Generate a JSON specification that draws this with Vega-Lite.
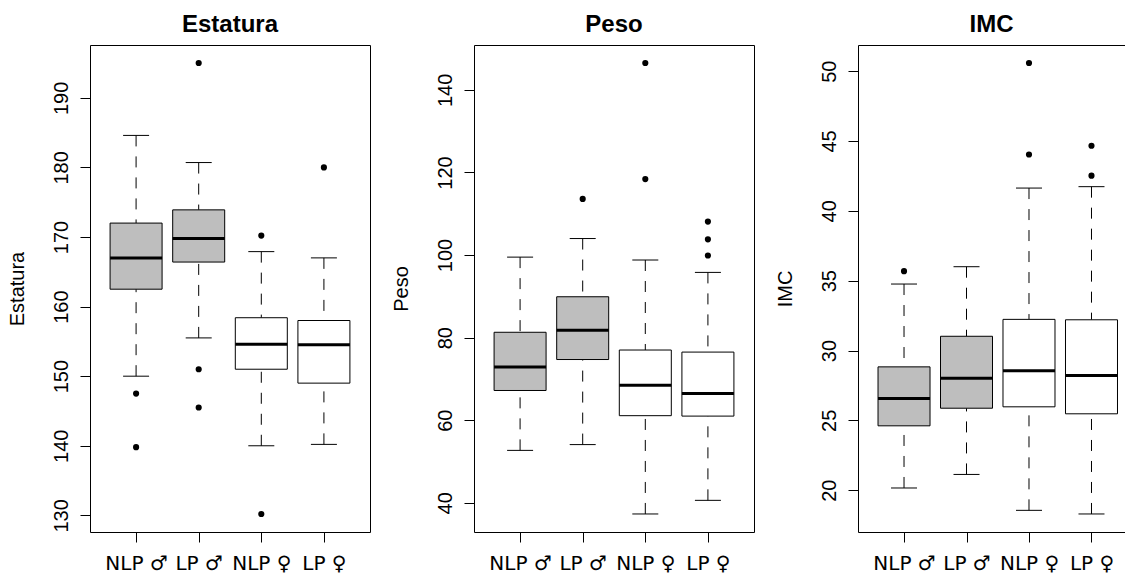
{
  "$schema": "https://vega.github.io/schema/vega-lite/v6.json",
  "padding": {"left": 6, "top": 12, "right": 0, "bottom": 0},
  "bounds": "flush",
  "spacing": 104,
  "config": {
    "font": "Liberation Sans",
    "view": {"stroke": "black", "strokeWidth": 1},
    "axis": {"grid": false, "domain": false, "domainColor": "black", "tickColor": "black", "tickSize": 10, "tickWidth": 1, "labelColor": "black", "labelFontSize": 20, "titleColor": "black", "titleFontSize": 20, "titleFontWeight": "normal", "labelOverlap": false, "labelFlush": false, "labelBound": false},
    "axisY": {"labelAngle": -90, "labelAlign": "center", "labelBaseline": "bottom", "labelPadding": 9, "titlePadding": 24, "labelFontSize": 20},
    "axisX": {"labelPadding": 11, "labelFontSize": 20, "labelFont": "DejaVu Sans"},
    "title": {"fontSize": 24, "fontWeight": "bold", "frame": "group", "offset": 8, "baseline": "alphabetic", "color": "black"}
  },
  "datasets": {
    "cajas": [
      {"variable": "Estatura", "g": 1, "grupo": "NLP ♂", "sexo": "hombre", "lower": 150.0, "q1": 162.5, "median": 167.0, "q3": 172.0, "upper": 184.6},
      {"variable": "Estatura", "g": 2, "grupo": "LP ♂", "sexo": "hombre", "lower": 155.5, "q1": 166.4, "median": 169.8, "q3": 173.9, "upper": 180.7},
      {"variable": "Estatura", "g": 3, "grupo": "NLP ♀", "sexo": "mujer", "lower": 140.0, "q1": 151.0, "median": 154.6, "q3": 158.4, "upper": 167.9},
      {"variable": "Estatura", "g": 4, "grupo": "LP ♀", "sexo": "mujer", "lower": 140.2, "q1": 149.0, "median": 154.5, "q3": 158.0, "upper": 167.0},
      {"variable": "Peso", "g": 1, "grupo": "NLP ♂", "sexo": "hombre", "lower": 52.7, "q1": 67.2, "median": 72.9, "q3": 81.3, "upper": 99.5},
      {"variable": "Peso", "g": 2, "grupo": "LP ♂", "sexo": "hombre", "lower": 54.1, "q1": 74.7, "median": 81.8, "q3": 89.9, "upper": 104.0},
      {"variable": "Peso", "g": 3, "grupo": "NLP ♀", "sexo": "mujer", "lower": 37.3, "q1": 61.1, "median": 68.5, "q3": 77.0, "upper": 98.8},
      {"variable": "Peso", "g": 4, "grupo": "LP ♀", "sexo": "mujer", "lower": 40.6, "q1": 61.0, "median": 66.5, "q3": 76.5, "upper": 95.8},
      {"variable": "IMC", "g": 1, "grupo": "NLP ♂", "sexo": "hombre", "lower": 20.16, "q1": 24.61, "median": 26.57, "q3": 28.83, "upper": 34.76},
      {"variable": "IMC", "g": 2, "grupo": "LP ♂", "sexo": "hombre", "lower": 21.13, "q1": 25.87, "median": 28.01, "q3": 31.02, "upper": 36.0},
      {"variable": "IMC", "g": 3, "grupo": "NLP ♀", "sexo": "mujer", "lower": 18.56, "q1": 25.97, "median": 28.56, "q3": 32.23, "upper": 41.63},
      {"variable": "IMC", "g": 4, "grupo": "LP ♀", "sexo": "mujer", "lower": 18.3, "q1": 25.47, "median": 28.22, "q3": 32.2, "upper": 41.73}
    ],
    "atipicos": [
      {"variable": "Estatura", "g": 1, "valor": 147.5},
      {"variable": "Estatura", "g": 1, "valor": 139.8},
      {"variable": "Estatura", "g": 2, "valor": 195.0},
      {"variable": "Estatura", "g": 2, "valor": 151.0},
      {"variable": "Estatura", "g": 2, "valor": 145.5},
      {"variable": "Estatura", "g": 3, "valor": 170.2},
      {"variable": "Estatura", "g": 3, "valor": 130.2},
      {"variable": "Estatura", "g": 4, "valor": 180.0},
      {"variable": "Peso", "g": 2, "valor": 113.6},
      {"variable": "Peso", "g": 3, "valor": 146.5},
      {"variable": "Peso", "g": 3, "valor": 118.4},
      {"variable": "Peso", "g": 4, "valor": 108.1},
      {"variable": "Peso", "g": 4, "valor": 103.8},
      {"variable": "Peso", "g": 4, "valor": 99.9},
      {"variable": "IMC", "g": 1, "valor": 35.68},
      {"variable": "IMC", "g": 3, "valor": 50.58},
      {"variable": "IMC", "g": 3, "valor": 44.03},
      {"variable": "IMC", "g": 4, "valor": 44.66},
      {"variable": "IMC", "g": 4, "valor": 42.52}
    ]
  },
  "hconcat": [
    {
      "width": 280, "height": 487,
      "title": {"text": "Estatura"},
      "layer": [
        {"data": {"name": "cajas"}, "transform": [{"filter": "datum.variable === 'Estatura'"}],
         "mark": {"type": "rule", "color": "black", "strokeDash": [11, 10]},
         "encoding": {
           "x": {"field": "g", "type": "quantitative", "title": null, "scale": {"domain": [0.3436, 4.6564], "nice": false, "zero": false}, "axis": {"values": [1, 2, 3, 4], "labelExpr": "['NLP ♂','LP ♂','NLP ♀','LP ♀'][datum.value-1]"}},
           "y": {"field": "upper", "type": "quantitative", "title": "Estatura", "scale": {"domain": [127.608, 197.592], "nice": false, "zero": false}, "axis": {"values": [130, 140, 150, 160, 170, 180, 190]}},
           "y2": {"field": "q3"}}},
        {"data": {"name": "cajas"}, "transform": [{"filter": "datum.variable === 'Estatura'"}],
         "mark": {"type": "rule", "color": "black", "strokeDash": [11, 10]},
         "encoding": {
           "x": {"field": "g", "type": "quantitative", "title": null, "scale": {"domain": [0.3436, 4.6564], "nice": false, "zero": false}},
           "y": {"field": "lower", "type": "quantitative", "title": "Estatura", "scale": {"domain": [127.608, 197.592], "nice": false, "zero": false}},
           "y2": {"field": "q1"}}},
        {"data": {"name": "cajas"}, "transform": [{"filter": "datum.variable === 'Estatura'"}],
         "mark": {"type": "bar", "width": 52, "stroke": "black", "strokeWidth": 1},
         "encoding": {
           "x": {"field": "g", "type": "quantitative", "title": null, "scale": {"domain": [0.3436, 4.6564], "nice": false, "zero": false}},
           "y": {"field": "q1", "type": "quantitative", "title": "Estatura", "scale": {"domain": [127.608, 197.592], "nice": false, "zero": false}},
           "y2": {"field": "q3"},
           "fill": {"field": "sexo", "type": "nominal", "scale": {"domain": ["hombre", "mujer"], "range": ["#bebebe", "#ffffff"]}, "legend": null}}},
        {"data": {"name": "cajas"}, "transform": [{"filter": "datum.variable === 'Estatura'"}],
         "mark": {"type": "tick", "orient": "horizontal", "size": 52, "thickness": 3, "color": "black", "opacity": 1},
         "encoding": {
           "x": {"field": "g", "type": "quantitative", "title": null, "scale": {"domain": [0.3436, 4.6564], "nice": false, "zero": false}},
           "y": {"field": "median", "type": "quantitative", "title": "Estatura", "scale": {"domain": [127.608, 197.592], "nice": false, "zero": false}}}},
        {"data": {"name": "cajas"}, "transform": [{"filter": "datum.variable === 'Estatura'"}],
         "mark": {"type": "tick", "orient": "horizontal", "size": 26, "thickness": 1, "color": "black", "opacity": 1},
         "encoding": {
           "x": {"field": "g", "type": "quantitative", "title": null, "scale": {"domain": [0.3436, 4.6564], "nice": false, "zero": false}},
           "y": {"field": "upper", "type": "quantitative", "title": "Estatura", "scale": {"domain": [127.608, 197.592], "nice": false, "zero": false}}}},
        {"data": {"name": "cajas"}, "transform": [{"filter": "datum.variable === 'Estatura'"}],
         "mark": {"type": "tick", "orient": "horizontal", "size": 26, "thickness": 1, "color": "black", "opacity": 1},
         "encoding": {
           "x": {"field": "g", "type": "quantitative", "title": null, "scale": {"domain": [0.3436, 4.6564], "nice": false, "zero": false}},
           "y": {"field": "lower", "type": "quantitative", "title": "Estatura", "scale": {"domain": [127.608, 197.592], "nice": false, "zero": false}}}},
        {"data": {"name": "atipicos"}, "transform": [{"filter": "datum.variable === 'Estatura'"}],
         "mark": {"type": "point", "filled": true, "color": "black", "size": 38, "opacity": 1},
         "encoding": {
           "x": {"field": "g", "type": "quantitative", "title": null, "scale": {"domain": [0.3436, 4.6564], "nice": false, "zero": false}},
           "y": {"field": "valor", "type": "quantitative", "title": "Estatura", "scale": {"domain": [127.608, 197.592], "nice": false, "zero": false}}}}
      ]
    },
    {
      "width": 280, "height": 487,
      "title": {"text": "Peso"},
      "layer": [
        {"data": {"name": "cajas"}, "transform": [{"filter": "datum.variable === 'Peso'"}],
         "mark": {"type": "rule", "color": "black", "strokeDash": [11, 10]},
         "encoding": {
           "x": {"field": "g", "type": "quantitative", "title": null, "scale": {"domain": [0.3436, 4.6564], "nice": false, "zero": false}, "axis": {"values": [1, 2, 3, 4], "labelExpr": "['NLP ♂','LP ♂','NLP ♀','LP ♀'][datum.value-1]"}},
           "y": {"field": "upper", "type": "quantitative", "title": "Peso", "scale": {"domain": [32.932, 150.868], "nice": false, "zero": false}, "axis": {"values": [40, 60, 80, 100, 120, 140]}},
           "y2": {"field": "q3"}}},
        {"data": {"name": "cajas"}, "transform": [{"filter": "datum.variable === 'Peso'"}],
         "mark": {"type": "rule", "color": "black", "strokeDash": [11, 10]},
         "encoding": {
           "x": {"field": "g", "type": "quantitative", "title": null, "scale": {"domain": [0.3436, 4.6564], "nice": false, "zero": false}},
           "y": {"field": "lower", "type": "quantitative", "title": "Peso", "scale": {"domain": [32.932, 150.868], "nice": false, "zero": false}},
           "y2": {"field": "q1"}}},
        {"data": {"name": "cajas"}, "transform": [{"filter": "datum.variable === 'Peso'"}],
         "mark": {"type": "bar", "width": 52, "stroke": "black", "strokeWidth": 1},
         "encoding": {
           "x": {"field": "g", "type": "quantitative", "title": null, "scale": {"domain": [0.3436, 4.6564], "nice": false, "zero": false}},
           "y": {"field": "q1", "type": "quantitative", "title": "Peso", "scale": {"domain": [32.932, 150.868], "nice": false, "zero": false}},
           "y2": {"field": "q3"},
           "fill": {"field": "sexo", "type": "nominal", "scale": {"domain": ["hombre", "mujer"], "range": ["#bebebe", "#ffffff"]}, "legend": null}}},
        {"data": {"name": "cajas"}, "transform": [{"filter": "datum.variable === 'Peso'"}],
         "mark": {"type": "tick", "orient": "horizontal", "size": 52, "thickness": 3, "color": "black", "opacity": 1},
         "encoding": {
           "x": {"field": "g", "type": "quantitative", "title": null, "scale": {"domain": [0.3436, 4.6564], "nice": false, "zero": false}},
           "y": {"field": "median", "type": "quantitative", "title": "Peso", "scale": {"domain": [32.932, 150.868], "nice": false, "zero": false}}}},
        {"data": {"name": "cajas"}, "transform": [{"filter": "datum.variable === 'Peso'"}],
         "mark": {"type": "tick", "orient": "horizontal", "size": 26, "thickness": 1, "color": "black", "opacity": 1},
         "encoding": {
           "x": {"field": "g", "type": "quantitative", "title": null, "scale": {"domain": [0.3436, 4.6564], "nice": false, "zero": false}},
           "y": {"field": "upper", "type": "quantitative", "title": "Peso", "scale": {"domain": [32.932, 150.868], "nice": false, "zero": false}}}},
        {"data": {"name": "cajas"}, "transform": [{"filter": "datum.variable === 'Peso'"}],
         "mark": {"type": "tick", "orient": "horizontal", "size": 26, "thickness": 1, "color": "black", "opacity": 1},
         "encoding": {
           "x": {"field": "g", "type": "quantitative", "title": null, "scale": {"domain": [0.3436, 4.6564], "nice": false, "zero": false}},
           "y": {"field": "lower", "type": "quantitative", "title": "Peso", "scale": {"domain": [32.932, 150.868], "nice": false, "zero": false}}}},
        {"data": {"name": "atipicos"}, "transform": [{"filter": "datum.variable === 'Peso'"}],
         "mark": {"type": "point", "filled": true, "color": "black", "size": 38, "opacity": 1},
         "encoding": {
           "x": {"field": "g", "type": "quantitative", "title": null, "scale": {"domain": [0.3436, 4.6564], "nice": false, "zero": false}},
           "y": {"field": "valor", "type": "quantitative", "title": "Peso", "scale": {"domain": [32.932, 150.868], "nice": false, "zero": false}}}}
      ]
    },
    {
      "width": 267, "height": 487,
      "title": {"text": "IMC"},
      "view": {"stroke": null},
      "resolve": {"axis": {"x": "independent"}},
      "layer": [
        {"data": {"name": "cajas"}, "transform": [{"filter": "datum.variable === 'IMC'"}],
         "mark": {"type": "rule", "color": "black", "strokeDash": [11, 10]},
         "encoding": {
           "x": {"field": "g", "type": "quantitative", "title": null, "scale": {"domain": [0.3436, 4.4563], "nice": false, "zero": false}, "axis": {"values": [1, 2, 3, 4], "domain": true, "labelExpr": "['NLP ♂','LP ♂','NLP ♀','LP ♀'][datum.value-1]"}},
           "y": {"field": "upper", "type": "quantitative", "title": "IMC", "scale": {"domain": [17.009, 51.871], "nice": false, "zero": false}, "axis": {"values": [20, 25, 30, 35, 40, 45, 50], "domain": true}},
           "y2": {"field": "q3"}}},
        {"data": {"name": "cajas"}, "transform": [{"filter": "datum.variable === 'IMC'"}],
         "mark": {"type": "rule", "color": "black", "strokeDash": [11, 10]},
         "encoding": {
           "x": {"field": "g", "type": "quantitative", "title": null, "scale": {"domain": [0.3436, 4.4563], "nice": false, "zero": false}, "axis": {"orient": "top", "labels": false, "ticks": false, "domain": true, "values": [1, 2, 3, 4]}},
           "y": {"field": "lower", "type": "quantitative", "title": "IMC", "scale": {"domain": [17.009, 51.871], "nice": false, "zero": false}},
           "y2": {"field": "q1"}}},
        {"data": {"name": "cajas"}, "transform": [{"filter": "datum.variable === 'IMC'"}],
         "mark": {"type": "bar", "width": 52, "stroke": "black", "strokeWidth": 1},
         "encoding": {
           "x": {"field": "g", "type": "quantitative", "title": null, "scale": {"domain": [0.3436, 4.4563], "nice": false, "zero": false}, "axis": null},
           "y": {"field": "q1", "type": "quantitative", "title": "IMC", "scale": {"domain": [17.009, 51.871], "nice": false, "zero": false}},
           "y2": {"field": "q3"},
           "fill": {"field": "sexo", "type": "nominal", "scale": {"domain": ["hombre", "mujer"], "range": ["#bebebe", "#ffffff"]}, "legend": null}}},
        {"data": {"name": "cajas"}, "transform": [{"filter": "datum.variable === 'IMC'"}],
         "mark": {"type": "tick", "orient": "horizontal", "size": 52, "thickness": 3, "color": "black", "opacity": 1},
         "encoding": {
           "x": {"field": "g", "type": "quantitative", "title": null, "scale": {"domain": [0.3436, 4.4563], "nice": false, "zero": false}, "axis": null},
           "y": {"field": "median", "type": "quantitative", "title": "IMC", "scale": {"domain": [17.009, 51.871], "nice": false, "zero": false}}}},
        {"data": {"name": "cajas"}, "transform": [{"filter": "datum.variable === 'IMC'"}],
         "mark": {"type": "tick", "orient": "horizontal", "size": 26, "thickness": 1, "color": "black", "opacity": 1},
         "encoding": {
           "x": {"field": "g", "type": "quantitative", "title": null, "scale": {"domain": [0.3436, 4.4563], "nice": false, "zero": false}, "axis": null},
           "y": {"field": "upper", "type": "quantitative", "title": "IMC", "scale": {"domain": [17.009, 51.871], "nice": false, "zero": false}}}},
        {"data": {"name": "cajas"}, "transform": [{"filter": "datum.variable === 'IMC'"}],
         "mark": {"type": "tick", "orient": "horizontal", "size": 26, "thickness": 1, "color": "black", "opacity": 1},
         "encoding": {
           "x": {"field": "g", "type": "quantitative", "title": null, "scale": {"domain": [0.3436, 4.4563], "nice": false, "zero": false}, "axis": null},
           "y": {"field": "lower", "type": "quantitative", "title": "IMC", "scale": {"domain": [17.009, 51.871], "nice": false, "zero": false}}}},
        {"data": {"name": "atipicos"}, "transform": [{"filter": "datum.variable === 'IMC'"}],
         "mark": {"type": "point", "filled": true, "color": "black", "size": 38, "opacity": 1},
         "encoding": {
           "x": {"field": "g", "type": "quantitative", "title": null, "scale": {"domain": [0.3436, 4.4563], "nice": false, "zero": false}, "axis": null},
           "y": {"field": "valor", "type": "quantitative", "title": "IMC", "scale": {"domain": [17.009, 51.871], "nice": false, "zero": false}}}}
      ]
    }
  ]
}
